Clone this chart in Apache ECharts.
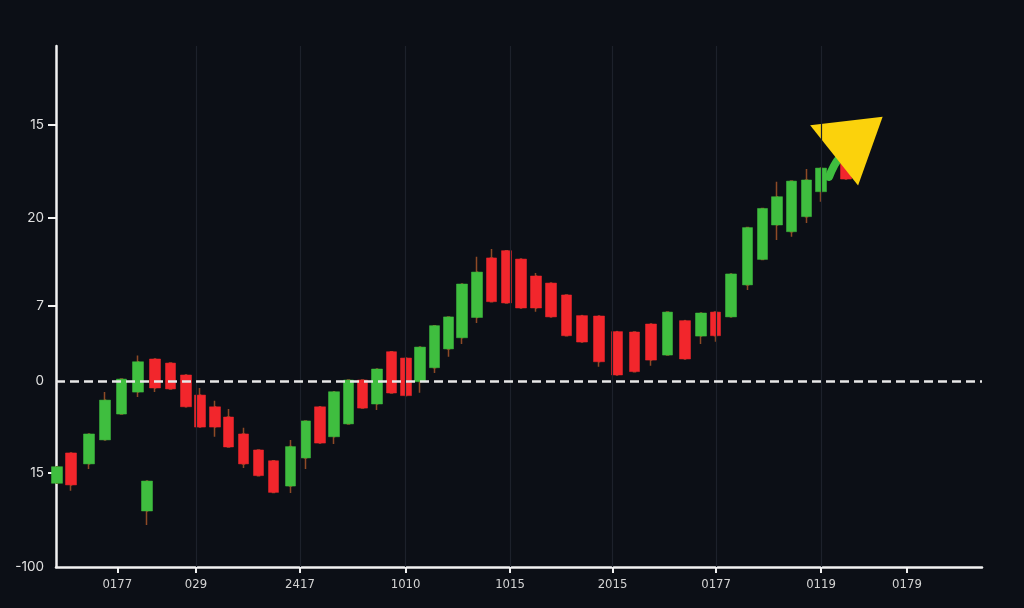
<!DOCTYPE html>
<html>
<head>
<meta charset="utf-8">
<script src="https://cdn.jsdelivr.net/npm/echarts@6/dist/echarts.min.js"></script>
<style>
html,body{margin:0;padding:0;background:#0c0f16;}
#chart{width:1024px;height:608px;}
</style>
</head>
<body>
<div id="chart"></div>
<script>
// ---- data ----
const xValues = [0.06, 0.97, 2.14, 3.18, 4.24, 5.31, 5.90, 6.41, 7.42, 8.42, 9.33, 10.30, 11.18, 12.15, 13.12, 14.09,
  15.19, 16.17, 17.11, 18.01, 18.95, 19.86, 20.80, 21.74, 22.68, 23.59, 24.53, 25.43, 26.31, 27.28, 28.22, 29.19,
  30.13, 31.10, 32.07, 33.08, 34.08, 35.18, 36.35, 37.48, 38.55, 39.62, 40.76, 41.79, 42.73, 43.74, 44.81, 45.78,
  46.72, 47.66, 48.63, 49.57, 51.19];
const opens = [-55.0, -38.7, -44.6, -31.7, -17.8, -6.0, -69.9, 11.8, 9.6, 3.2, -7.6, -13.9, -19.4, -28.5, -37.1, -42.9,
  -56.5, -41.4, -13.9, -30.0, -23.1, 0.5, -12.4, 15.7, 12.3, -0.4, 7.1, 17.2, 23.2, 34.1, 66.1, 70.0,
  65.5, 56.4, 52.6, 46.2, 35.1, 34.9, 26.5, 26.3, 30.6, 13.9, 32.4, 24.1, 37.0, 34.4, 51.6, 65.3,
  83.8, 80.2, 88.3, 101.7, 119.8];
const closes = [-46.1, -55.9, -28.5, -10.3, 1.0, 10.3, -53.8, -3.8, -4.3, -13.9, -24.8, -24.8, -35.5, -44.6, -50.9, -59.9,
  -35.3, -21.5, -33.4, -5.8, 0.5, -14.6, 6.4, -6.5, -7.9, 18.2, 29.7, 34.4, 52.1, 58.5, 42.6, 41.9,
  39.2, 39.2, 34.4, 24.3, 20.9, 10.3, 3.2, 5.0, 11.2, 37.0, 11.8, 36.5, 24.3, 57.5, 82.4, 92.7,
  99.0, 107.4, 108.0, 114.4, 108.5];
const lows = [-55.0, -59.0, -47.3, -31.7, -17.8, -8.6, -77.4, -6.0, -4.3, -13.9, -24.8, -30.0, -35.5, -46.8, -50.9, -59.9,
  -60.2, -47.3, -33.4, -33.9, -23.1, -14.6, -15.6, -6.5, -7.9, -6.3, 4.3, 13.0, 19.8, 31.1, 42.6, 41.9,
  39.2, 37.2, 34.4, 24.3, 20.9, 7.6, 3.2, 5.0, 8.2, 13.9, 11.8, 19.8, 21.1, 34.4, 48.9, 65.3,
  75.7, 77.5, 84.9, 96.3, 108.5];
const highs = [-46.1, -38.7, -28.5, -6.0, 1.0, 13.6, -53.8, 11.8, 9.6, 3.2, -3.8, -10.6, -15.1, -25.1, -37.1, -42.9,
  -31.7, -21.5, -13.9, -5.8, 0.5, 0.5, 6.4, 15.7, 12.3, 18.2, 29.7, 34.4, 52.1, 66.8, 70.9, 70.0,
  65.5, 58.0, 52.6, 46.2, 35.1, 34.9, 26.5, 26.3, 30.6, 37.0, 32.4, 36.5, 37.0, 57.5, 82.4, 92.7,
  107.1, 107.4, 113.9, 114.4, 124.1];

const trendX = [50.09, 50.41, 50.80, 51.25];
const trendY = [109.6, 115.5, 120.3, 123.6];
const arrowX = [51.99];
const arrowY = [131.6];

const xTickValues = [3.97, 9.07, 15.81, 22.65, 29.42, 36.06, 42.77, 49.57, 55.14];
const xTickLabels = ['0177', '029', '2417', '1010', '1015', '2015', '0177', '0119', '0179'];
const gridXValues = xTickValues.slice(1, 8);
const yTickValues = [-100, -49.5, 0, 40.3, 87.8, 137.8];
const yTickLabels = ['-100', '15', '0', '7', '20', '15'];
const yTickMarkValues = [-49.5, 40.3, 87.8, 137.8];

// ---- build ----
function lookup(vals, labels, v) {
  for (let i = 0; i < vals.length; i++) if (Math.abs(vals[i] - v) < 1e-6) return labels[i];
  return '';
}
const GREEN = '#3fbe3f', RED = '#f2262c', WICK = '#8e4a26';
const bodyData = xValues.map((x, i) => [x, opens[i], closes[i], Math.min(opens[i], closes[i]), Math.max(opens[i], closes[i])]);
const wickData = xValues.map((x, i) => [x, opens[i], closes[i], lows[i], highs[i]]);

const chart = echarts.init(document.getElementById('chart'), null, {renderer: 'canvas'});
chart.setOption({
  backgroundColor: '#0c0f16',
  animation: false,
  grid: {left: 56, right: 42, top: 46, bottom: 41, containLabel: false},
  xAxis: {
    type: 'value', min: 0, max: 60,
    axisLine: {show: true, onZero: false, lineStyle: {color: '#f2f2f2', width: 2.5}},
    axisTick: {show: true, customValues: xTickValues, length: 6, lineStyle: {color: '#f2f2f2', width: 2}},
    axisLabel: {
      customValues: xTickValues, margin: 11, color: '#d4d4d4', fontSize: 13,
      fontFamily: "'DejaVu Sans Condensed','Liberation Sans Narrow','Noto Sans',sans-serif",
      formatter: v => lookup(xTickValues, xTickLabels, v)
    },
    splitLine: {show: false}
  },
  yAxis: {
    type: 'value', min: -100, max: 180,
    axisLine: {show: true, onZero: false, lineStyle: {color: '#f2f2f2', width: 2.5}},
    axisTick: {show: true, customValues: yTickMarkValues, length: 8, lineStyle: {color: '#f2f2f2', width: 2}},
    axisLabel: {
      customValues: yTickValues, margin: 12, color: '#e0e0e0', fontSize: 13.5,
      fontFamily: "'Inter','Noto Sans',sans-serif",
      formatter: v => lookup(yTickValues, yTickLabels, v)
    },
    splitLine: {show: false}
  },
  series: [
    {
      name: 'wicks', type: 'candlestick', z: 1, barWidth: 2, clip: true,
      itemStyle: {color: WICK, color0: WICK, borderColor: WICK, borderColor0: WICK, borderWidth: 1.5},
      data: wickData,
      markLine: {
        silent: true, symbol: 'none', label: {show: false},
        lineStyle: {color: '#1d212b', width: 1.2, type: 'solid'},
        data: gridXValues.map(v => ({xAxis: v}))
      }
    },
    {
      name: 'candles', type: 'candlestick', z: 2, barWidth: 11, clip: true,
      itemStyle: {color: GREEN, color0: RED, borderColor: GREEN, borderColor0: RED, borderWidth: 0.5},
      data: bodyData
    },
    {
      name: 'trend', type: 'line', z: 3, smooth: true, symbol: 'none',
      lineStyle: {color: GREEN, width: 8, cap: 'round'},
      data: trendX.map((x, i) => [x, trendY[i]]),
      markLine: {
        silent: true, symbol: 'none', label: {show: false},
        lineStyle: {color: '#e8e8e8', width: 2.5, type: [9, 5]},
        data: [{yAxis: 0}]
      }
    },
    {
      name: 'arrow', type: 'scatter', z: 4,
      symbol: 'triangle', symbolSize: [77, 62], symbolRotate: -51.5,
      itemStyle: {color: '#fbd20c', opacity: 1},
      data: arrowX.map((x, i) => [x, arrowY[i]])
    }
  ]
});
</script>
</body>
</html>
